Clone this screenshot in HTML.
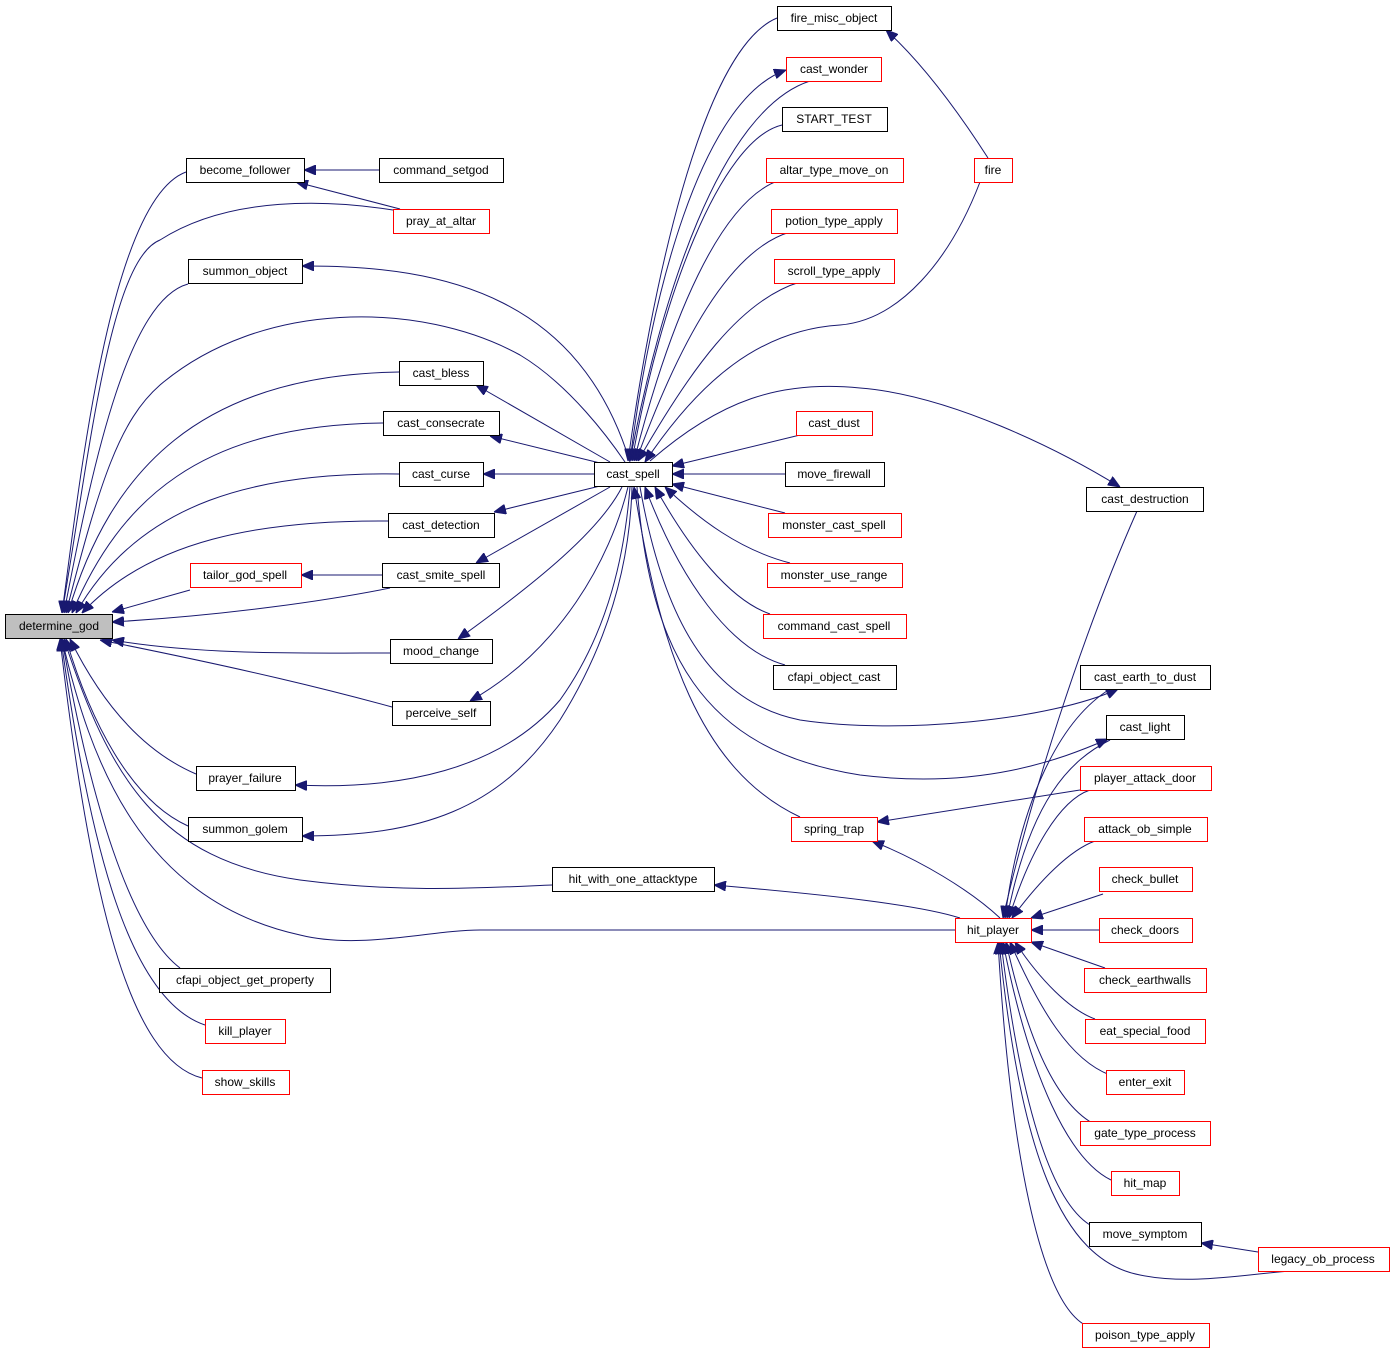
<!DOCTYPE html>
<html><head><meta charset="utf-8"><style>
html,body{margin:0;padding:0;background:#fff;}
svg text{font-family:"Liberation Sans",Arial,sans-serif;font-size:12px;}
</style></head><body>
<svg width="1395" height="1355" viewBox="0 0 1395 1355" xmlns="http://www.w3.org/2000/svg">
<defs>
<marker id="a" viewBox="0 0 12 10" refX="0" refY="5" markerWidth="12" markerHeight="10" orient="auto" markerUnits="userSpaceOnUse">
<path d="M12,0 L0,5 L12,10 z" fill="#191970" stroke="#191970"/>
</marker>
</defs>
<g fill="none" stroke="#191970" stroke-width="1" marker-start="url(#a)">
<path d="M62,613 C 80,480 110,200 186,172"/>
<path d="M62,613 C 90,450 110,260 160,240 C 230,195 330,200 393,210"/>
<path d="M64,613 C 95,450 130,300 188,284"/>
<path d="M66,613 C 100,480 120,420 160,385 C 260,300 420,300 520,355 C 570,385 610,440 625,462"/>
<path d="M68,613 C 110,470 200,375 399,372"/>
<path d="M72,613 C 120,500 200,425 383,423"/>
<path d="M76,613 C 140,500 260,472 399,474"/>
<path d="M82,613 C 150,540 260,520 388,521"/>
<path d="M112,612 L 190,590"/>
<path d="M112,622 C 230,615 330,600 390,588"/>
<path d="M112,640 C 200,655 300,653 390,653"/>
<path d="M100,640 C 250,670 330,690 392,707"/>
<path d="M70,639 C 100,700 140,750 196,774"/>
<path d="M66,639 C 90,720 130,800 188,826"/>
<path d="M64,639 C 110,780 160,860 300,880 C 400,893 480,888 552,885"/>
<path d="M62,639 C 90,760 140,900 300,935 C 360,950 430,930 480,930 L 955,930"/>
<path d="M62,639 C 90,800 130,930 180,968"/>
<path d="M61,639 C 90,850 130,1000 205,1025"/>
<path d="M60,639 C 90,900 130,1060 202,1078"/>
<path d="M304,170 L379,170"/>
<path d="M296,182 L400,209"/>
<path d="M302,266 C 450,265 580,300 630,462"/>
<path d="M476,385 L 610,462"/>
<path d="M490,436 L 600,463"/>
<path d="M483,474 L 594,474"/>
<path d="M494,512 L 600,486"/>
<path d="M476,563 L 610,487"/>
<path d="M301,575 L382,575"/>
<path d="M458,639 C 540,580 600,530 622,487"/>
<path d="M470,701 C 560,650 610,560 628,487"/>
<path d="M295,785 C 400,790 500,770 560,700 C 610,630 625,550 630,487"/>
<path d="M302,836 C 420,836 500,810 560,720 C 610,640 630,560 632,487"/>
<path d="M628,461 C 650,300 700,50 777,18"/>
<path d="M786,70 C 700,100 650,300 630,461"/>
<path d="M630,461 C 660,300 720,110 810,81"/>
<path d="M886,30 C 930,70 970,130 988,158"/>
<path d="M645,462 C 700,380 760,330 840,325 C 900,320 950,260 980,182"/>
<path d="M632,461 C 660,300 720,140 782,125"/>
<path d="M634,461 C 670,320 720,200 780,180"/>
<path d="M636,461 C 680,340 730,250 790,232"/>
<path d="M638,461 C 690,370 740,300 800,282"/>
<path d="M1120,487 C 1060,450 950,395 860,388 C 780,380 720,400 650,461"/>
<path d="M672,466 L 800,435"/>
<path d="M672,474 L785,474"/>
<path d="M672,484 L 785,513"/>
<path d="M665,487 C 700,520 740,550 790,563"/>
<path d="M655,487 C 690,550 730,600 770,614"/>
<path d="M645,487 C 680,580 730,650 785,665"/>
<path d="M1118,689 C 1050,720 900,735 800,720 C 700,700 660,600 640,487"/>
<path d="M1108,739 C 1060,760 980,790 860,775 C 700,750 650,650 637,487"/>
<path d="M634,487 C 660,650 700,770 800,817"/>
<path d="M1003,918 C 1030,800 1080,640 1137,511"/>
<path d="M1005,918 C 1020,800 1060,720 1110,689"/>
<path d="M1007,918 C 1030,800 1070,760 1110,740"/>
<path d="M1009,918 C 1030,850 1060,800 1090,790"/>
<path d="M1012,918 C 1040,880 1070,850 1095,841"/>
<path d="M1031,918 L1103,894"/>
<path d="M1031,930 L1099,930"/>
<path d="M1031,942 L1105,968"/>
<path d="M1015,942 C 1040,980 1070,1010 1095,1019"/>
<path d="M1010,942 C 1040,1010 1070,1060 1110,1075"/>
<path d="M1006,942 C 1030,1050 1060,1110 1100,1127"/>
<path d="M1003,942 C 1030,1080 1070,1160 1111,1180"/>
<path d="M1001,942 C 1020,1100 1050,1200 1090,1225"/>
<path d="M999,942 C 1020,1150 1060,1260 1140,1275 C 1190,1285 1240,1275 1290,1271"/>
<path d="M998,942 C 1010,1150 1040,1300 1085,1325"/>
<path d="M872,841 C 920,860 970,890 1000,918"/>
<path d="M877,822 L1080,790"/>
<path d="M714,885 C 830,895 920,905 960,918"/>
<path d="M1201,1243 L1258,1252"/>
</g>
<g stroke-width="1">
<rect x="5.5" y="614.5" width="107" height="24" fill="#bfbfbf" stroke="#000"/>
<text x="59" y="630" text-anchor="middle">determine_god</text>
</g>
<g fill="#fff" stroke-width="1" text-anchor="middle">
<g stroke="#000">
<rect x="186.5" y="158.5" width="118" height="24"/>
<rect x="379.5" y="158.5" width="124" height="24"/>
<rect x="188.5" y="259.5" width="114" height="24"/>
<rect x="399.5" y="361.5" width="84" height="24"/>
<rect x="383.5" y="411.5" width="116" height="24"/>
<rect x="399.5" y="462.5" width="84" height="24"/>
<rect x="388.5" y="513.5" width="106" height="24"/>
<rect x="382.5" y="563.5" width="117" height="24"/>
<rect x="390.5" y="639.5" width="102" height="24"/>
<rect x="392.5" y="701.5" width="98" height="24"/>
<rect x="196.5" y="766.5" width="99" height="24"/>
<rect x="188.5" y="817.5" width="114" height="24"/>
<rect x="552.5" y="867.5" width="162" height="24"/>
<rect x="159.5" y="968.5" width="171" height="24"/>
<rect x="594.5" y="462.5" width="78" height="24"/>
<rect x="777.5" y="6.5" width="114" height="24"/>
<rect x="782.5" y="107.5" width="105" height="24"/>
<rect x="785.5" y="462.5" width="99" height="24"/>
<rect x="773.5" y="665.5" width="123" height="24"/>
<rect x="1086.5" y="487.5" width="117" height="24"/>
<rect x="1080.5" y="665.5" width="130" height="24"/>
<rect x="1106.5" y="715.5" width="78" height="24"/>
<rect x="1089.5" y="1222.5" width="112" height="24"/>
</g>
<g stroke="#f00">
<rect x="393.5" y="209.5" width="96" height="24"/>
<rect x="190.5" y="563.5" width="111" height="24"/>
<rect x="205.5" y="1019.5" width="80" height="24"/>
<rect x="202.5" y="1070.5" width="87" height="24"/>
<rect x="786.5" y="57.5" width="95" height="24"/>
<rect x="766.5" y="158.5" width="137" height="24"/>
<rect x="771.5" y="209.5" width="126" height="24"/>
<rect x="774.5" y="259.5" width="120" height="24"/>
<rect x="796.5" y="411.5" width="76" height="24"/>
<rect x="768.5" y="513.5" width="133" height="24"/>
<rect x="767.5" y="563.5" width="135" height="24"/>
<rect x="763.5" y="614.5" width="143" height="24"/>
<rect x="791.5" y="817.5" width="86" height="24"/>
<rect x="974.5" y="158.5" width="38" height="24"/>
<rect x="955.5" y="918.5" width="76" height="24"/>
<rect x="1080.5" y="766.5" width="131" height="24"/>
<rect x="1084.5" y="817.5" width="123" height="24"/>
<rect x="1099.5" y="867.5" width="93" height="24"/>
<rect x="1099.5" y="918.5" width="93" height="24"/>
<rect x="1084.5" y="968.5" width="122" height="24"/>
<rect x="1085.5" y="1019.5" width="120" height="24"/>
<rect x="1106.5" y="1070.5" width="78" height="24"/>
<rect x="1080.5" y="1121.5" width="130" height="24"/>
<rect x="1111.5" y="1171.5" width="68" height="24"/>
<rect x="1082.5" y="1323.5" width="127" height="24"/>
<rect x="1258.5" y="1247.5" width="131" height="24"/>
</g>
<g fill="#000" stroke="none">
<text x="245" y="174">become_follower</text>
<text x="441" y="174">command_setgod</text>
<text x="245" y="275">summon_object</text>
<text x="441" y="377">cast_bless</text>
<text x="441" y="427">cast_consecrate</text>
<text x="441" y="478">cast_curse</text>
<text x="441" y="529">cast_detection</text>
<text x="441" y="579">cast_smite_spell</text>
<text x="441" y="655">mood_change</text>
<text x="441" y="717">perceive_self</text>
<text x="245" y="782">prayer_failure</text>
<text x="245" y="833">summon_golem</text>
<text x="633" y="883">hit_with_one_attacktype</text>
<text x="245" y="984">cfapi_object_get_property</text>
<text x="633" y="478">cast_spell</text>
<text x="834" y="22">fire_misc_object</text>
<text x="834" y="123">START_TEST</text>
<text x="834" y="478">move_firewall</text>
<text x="834" y="681">cfapi_object_cast</text>
<text x="1145" y="503">cast_destruction</text>
<text x="1145" y="681">cast_earth_to_dust</text>
<text x="1145" y="731">cast_light</text>
<text x="1145" y="1238">move_symptom</text>
<text x="441" y="225">pray_at_altar</text>
<text x="245" y="579">tailor_god_spell</text>
<text x="245" y="1035">kill_player</text>
<text x="245" y="1086">show_skills</text>
<text x="834" y="73">cast_wonder</text>
<text x="834" y="174">altar_type_move_on</text>
<text x="834" y="225">potion_type_apply</text>
<text x="834" y="275">scroll_type_apply</text>
<text x="834" y="427">cast_dust</text>
<text x="834" y="529">monster_cast_spell</text>
<text x="834" y="579">monster_use_range</text>
<text x="834" y="630">command_cast_spell</text>
<text x="834" y="833">spring_trap</text>
<text x="993" y="174">fire</text>
<text x="993" y="934">hit_player</text>
<text x="1145" y="782">player_attack_door</text>
<text x="1145" y="833">attack_ob_simple</text>
<text x="1145" y="883">check_bullet</text>
<text x="1145" y="934">check_doors</text>
<text x="1145" y="984">check_earthwalls</text>
<text x="1145" y="1035">eat_special_food</text>
<text x="1145" y="1086">enter_exit</text>
<text x="1145" y="1137">gate_type_process</text>
<text x="1145" y="1187">hit_map</text>
<text x="1145" y="1339">poison_type_apply</text>
<text x="1323" y="1263">legacy_ob_process</text>
</g>
</g>
</svg>
</body></html>
